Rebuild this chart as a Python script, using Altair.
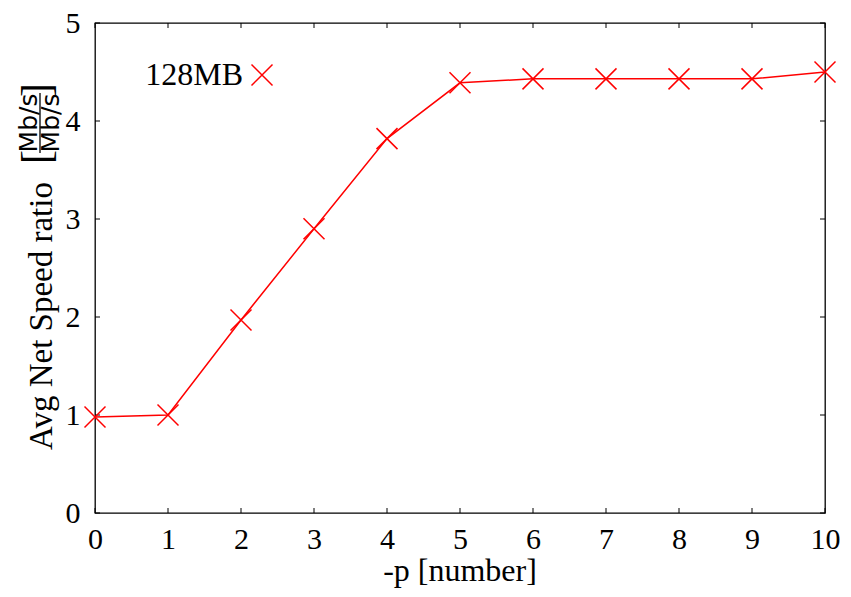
import altair as alt
import pandas as pd

# ---- data ----
p_values = [0, 1, 2, 3, 4, 5, 6, 7, 8, 9, 10]
ratio_128mb = [0.98, 1.00, 1.97, 2.90, 3.82, 4.39, 4.43, 4.43, 4.43, 4.43, 4.50]
x_ticks = [0, 1, 2, 3, 4, 5, 6, 7, 8, 9, 10]
y_ticks = [0, 1, 2, 3, 4, 5]
series_name = "128MB"
x_title = "-p [number]"
y_title_main = "Avg Net Speed ratio"
y_title_unit = "Mb/s"

# ---- styling ----
TOP = 15  # plot top at page y = 8 + TOP
W, H = 730, 490
RED = "#ff0000"
SERIF = "Liberation Serif"
SANS = "DejaVu Sans"
X_SHAPE = "M-1,-1L1,1M1,-1L-1,1"
TICK = 5

df = pd.DataFrame({"p": p_values, "ratio": ratio_128mb})
xscale = alt.Scale(domain=[0, 10], nice=False, zero=False)
yscale = alt.Scale(domain=[0, 5], nice=False, zero=False)

x_axis = alt.Axis(values=x_ticks, ticks=False, tickSize=0, domain=False, grid=False,
                  labelFont=SERIF, labelFontSize=30, labelColor="black",
                  labelBaseline="alphabetic", labelPadding=35, labelFlush=False,
                  title=None)
y_axis = alt.Axis(values=y_ticks, ticks=False, tickSize=0, domain=False, grid=False,
                  labelFont=SERIF, labelFontSize=30, labelColor="black",
                  labelPadding=15, labelFlush=False, title=None)

X = alt.X("p:Q", scale=xscale, axis=x_axis)
Y = alt.Y("ratio:Q", scale=yscale, axis=y_axis)

base = alt.Chart(df)
line = base.mark_line(color=RED, strokeWidth=1.5).encode(x=X, y=Y)
pts = base.mark_point(shape=X_SHAPE, size=441, filled=False, color=RED,
                      strokeWidth=1.5, opacity=1).encode(x=X, y=Y)

# inward ticks on all four sides
xt = alt.Chart(pd.DataFrame({"p": x_ticks}))
xt_bottom = xt.mark_rule(color="black", strokeWidth=1).encode(
    x=X, y=alt.value(H), y2=alt.value(H - TICK))
xt_top = xt.mark_rule(color="black", strokeWidth=1).encode(
    x=X, y=alt.value(0), y2=alt.value(TICK))
yt = alt.Chart(pd.DataFrame({"ratio": y_ticks}))
yt_left = yt.mark_rule(color="black", strokeWidth=1).encode(
    y=Y, x=alt.value(0), x2=alt.value(TICK))
yt_right = yt.mark_rule(color="black", strokeWidth=1).encode(
    y=Y, x=alt.value(W), x2=alt.value(W - TICK))

one = alt.Chart(pd.DataFrame({"a": [0]}))


def py(v):
    """page y -> plot y"""
    return v - 8 - TOP


# legend
leg_text = one.mark_text(text=series_name, font=SERIF, fontSize=32, color="black",
                         align="right", baseline="alphabetic").encode(
    x=alt.value(148), y=alt.value(py(85)))
leg_mark = one.mark_point(shape=X_SHAPE, size=441, filled=False, color=RED,
                          strokeWidth=1.5, opacity=1).encode(
    x=alt.value(167), y=alt.value(py(75)))

# x title
xt_text = one.mark_text(text=x_title, font=SERIF, fontSize=32, color="black",
                        align="center", baseline="alphabetic").encode(
    x=alt.value(W / 2), y=alt.value(py(581)))

# y title with fraction
yt_main = one.mark_text(text=y_title_main, font=SERIF, fontSize=33, color="black",
                        angle=270, align="center", baseline="alphabetic").encode(
    x=alt.value(52 - 95), y=alt.value(py(316)))
yt_open = one.mark_text(text="[", font=SERIF, fontSize=42, color="black",
                        angle=270, align="center", baseline="alphabetic").encode(
    x=alt.value(50 - 95), y=alt.value(py(157)))
yt_close = one.mark_text(text="]", font=SERIF, fontSize=42, color="black",
                         angle=270, align="center", baseline="alphabetic").encode(
    x=alt.value(50 - 95), y=alt.value(py(90)))
yt_num = one.mark_text(text=y_title_unit, font=SANS, fontSize=25, color="black",
                       angle=270, align="center", baseline="alphabetic").encode(
    x=alt.value(37 - 95), y=alt.value(py(123)))
yt_den = one.mark_text(text=y_title_unit, font=SANS, fontSize=25, color="black",
                       angle=270, align="center", baseline="alphabetic").encode(
    x=alt.value(59 - 95), y=alt.value(py(123)))
yt_bar = one.mark_rule(color="black", strokeWidth=1.3).encode(
    x=alt.value(40 - 95), y=alt.value(py(93)), y2=alt.value(py(153)))

chart = alt.layer(
    xt_bottom, xt_top, yt_left, yt_right, line, pts,
    leg_text, leg_mark, xt_text, yt_main, yt_open, yt_close, yt_num, yt_den, yt_bar,
).properties(
    width=W, height=H,
    padding={"left": 87, "top": TOP, "right": 18, "bottom": 581 - TOP - H},
    autosize=alt.AutoSizeParams(type="none"),
).configure(background="white").configure_view(stroke="black", strokeWidth=1.3)

chart.save("out.html", embed_options={"renderer": "svg", "actions": False})
